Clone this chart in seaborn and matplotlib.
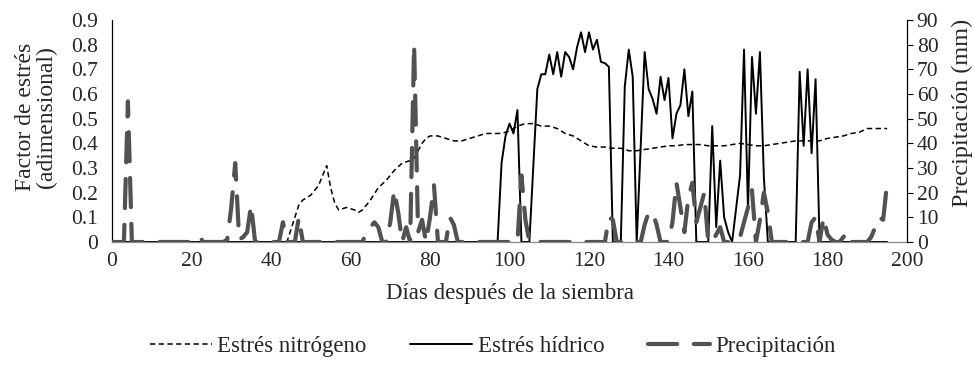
import matplotlib
matplotlib.use("Agg")
import matplotlib.pyplot as plt
import seaborn as sns
import pandas as pd
from matplotlib.ticker import FuncFormatter, MultipleLocator

# ---- data (day, value) ----
NITRO_DAYS = [0, 43, 44, 47, 48, 50, 52, 54, 55, 56, 57, 59, 61, 62, 63, 65, 67, 69, 71, 73, 75,
              76, 77, 78, 79, 80, 82, 84, 86, 88, 90, 92, 94, 96, 98, 100, 102, 104, 106, 108,
              110, 112, 114, 116, 118, 120, 122, 124, 126, 128, 130, 132, 134, 136, 138, 140,
              142, 144, 146, 148, 150, 152, 154, 156, 158, 160, 162, 164, 166, 168, 170, 172,
              174, 176, 178, 180, 182, 184, 186, 188, 190, 192, 194, 195]
NITRO_VALS = [0, 0, 0.00, 0.15, 0.17, 0.19, 0.23, 0.31, 0.22, 0.16, 0.13, 0.14, 0.13, 0.12, 0.13,
              0.17, 0.22, 0.25, 0.29, 0.32, 0.33, 0.34, 0.37, 0.40, 0.42, 0.43, 0.43, 0.42, 0.41,
              0.41, 0.42, 0.43, 0.44, 0.44, 0.44, 0.45, 0.47, 0.48, 0.48, 0.47, 0.47, 0.46, 0.44,
              0.43, 0.41, 0.39, 0.385, 0.385, 0.38, 0.38, 0.37, 0.37, 0.375, 0.38, 0.385, 0.39,
              0.39, 0.395, 0.395, 0.395, 0.39, 0.39, 0.39, 0.395, 0.40, 0.395, 0.39, 0.39, 0.395,
              0.40, 0.405, 0.41, 0.41, 0.41, 0.41, 0.42, 0.425, 0.43, 0.44, 0.445, 0.46, 0.46,
              0.46, 0.46]

WATER_DAYS = [0, 97, 98, 99, 100, 101, 102, 103, 105, 107, 108, 109, 110, 111, 112, 113, 114,
              115, 116, 117, 118, 119, 120, 121, 122, 123, 124, 125, 126, 128, 129, 130, 131,
              132, 134, 135, 136, 137, 138, 139, 140, 141, 142, 143, 144, 145, 146, 147, 150,
              151, 152, 153, 154, 155, 156, 158, 159, 160, 161, 162, 163, 164, 165, 172, 173,
              174, 175, 176, 177, 178, 195]
WATER_VALS = [0, 0, 0.32, 0.43, 0.48, 0.44, 0.535, 0, 0, 0.62, 0.68, 0.68, 0.76, 0.68, 0.77, 0.67,
              0.77, 0.75, 0.70, 0.79, 0.85, 0.77, 0.85, 0.78, 0.82, 0.73, 0.725, 0.71, 0, 0,
              0.63, 0.78, 0.67, 0, 0.77, 0.62, 0.58, 0.52, 0.67, 0.575, 0.665, 0.42, 0.52, 0.555,
              0.70, 0.51, 0.61, 0, 0, 0.47, 0.06, 0.33, 0.10, 0.04, 0, 0.27, 0.78, 0.13, 0.75,
              0.52, 0.77, 0.26, 0, 0, 0.69, 0.39, 0.70, 0.36, 0.66, 0, 0]

RAIN_DAYS = [0, 3, 4, 5, 21, 22, 23, 28, 29, 30, 31, 32, 33, 34, 35, 36, 42, 43, 44, 46, 47, 48,
             63, 64, 65, 66, 67, 68, 69, 70, 71, 72, 73, 74, 75, 76, 77, 78, 79, 80, 81, 82, 84,
             85, 86, 87, 102, 103, 104, 105, 124, 125, 126, 127, 133, 134, 135, 136, 137, 138,
             140, 141, 142, 143, 144, 145, 146, 147, 148, 149, 150, 151, 152, 153, 154, 157,
             158, 159, 160, 161, 162, 163, 164, 165, 166, 175, 176, 177, 178, 179, 180, 181,
             182, 183, 184, 185, 186, 190, 191, 192, 193, 194, 195]
RAIN_MM = [0, 0, 57, 0, 0, 2, 0, 0, 1, 14, 32, 1, 2, 4, 15, 0, 0, 8, 0, 0, 10, 0,
           0, 4, 6, 8, 6, 0, 0, 8, 21, 12, 0, 6, 0, 80, 4, 9, 0, 10, 23, 0, 0,
           10, 7, 0, 0, 27, 9, 0, 0, 10, 9, 0, 0, 7, 12, 12, 7, 0,
           0, 8, 24, 14, 4, 18, 24, 8, 14, 20, 0, 0, 3, 6, 0, 0,
           2, 8, 14, 21, 0, 9, 20, 12, 0, 0, 8, 10, 0, 10, 3, 1,
           0, 0, 2, 4, 0, 0, 2, 6, 10, 9, 24]

X_TICKS = list(range(0, 201, 20))
LABEL_N = "Estrés nitrógeno"
LABEL_W = "Estrés hídrico"
LABEL_P = "Precipitación"

# ---- style ----
sns.set_style("white")
plt.rcParams["font.family"] = ["Liberation Serif", "DejaVu Serif"]
plt.rcParams["font.size"] = 15.5

fig = plt.figure(figsize=(9.74, 3.66), dpi=100)
ax = fig.add_axes([112 / 974, 124 / 366, 795 / 974, 222 / 366])
tw = ax.twinx()

dn = pd.DataFrame({"dia": NITRO_DAYS, "valor": NITRO_VALS})
dw = pd.DataFrame({"dia": WATER_DAYS, "valor": WATER_VALS})
dp = pd.DataFrame({"dia": RAIN_DAYS, "mm": RAIN_MM})

sns.lineplot(data=dn, x="dia", y="valor", ax=ax, color="black", linewidth=1.1,
             label=LABEL_N, estimator=None)
ax.lines[-1].set_dashes((3.5, 2.2))
sns.lineplot(data=dw, x="dia", y="valor", ax=ax, color="black", linewidth=1.4,
             label=LABEL_W, estimator=None)
sns.lineplot(data=dp, x="dia", y="mm", ax=tw, color="#525252", linewidth=3.0,
             label=LABEL_P, estimator=None)
pl = tw.lines[-1]
pl.set_dashes((7.0, 4.0))
pl.set_dash_capstyle("round")
pl.set_solid_capstyle("round")

for a in (ax, tw):
    if a.get_legend() is not None:
        a.get_legend().remove()

ax.set_xlim(0, 200)
ax.set_ylim(0, 0.9)
tw.set_ylim(0, 90)
ax.set_xticks(X_TICKS)
ax.yaxis.set_major_locator(MultipleLocator(0.1))
ax.yaxis.set_major_formatter(FuncFormatter(lambda v, p: "0" if abs(v) < 1e-9 else f"{v:.1f}"))
tw.yaxis.set_major_locator(MultipleLocator(10))

for s in ("top", "right"):
    ax.spines[s].set_visible(False)
for s in ("top", "left", "bottom"):
    tw.spines[s].set_visible(False)
ax.spines["left"].set_color("black")
ax.spines["left"].set_linewidth(0.9)
ax.spines["bottom"].set_color("#8a8a8a")
ax.spines["bottom"].set_linewidth(0.9)
tw.spines["right"].set_color("black")
tw.spines["right"].set_linewidth(0.9)

ax.tick_params(axis="both", length=0)
ax.tick_params(axis="y", pad=10)
ax.tick_params(axis="x", pad=7)
tw.tick_params(axis="y", length=4, width=0.8, direction="out", pad=3, color="black")

ax.set_xlabel("Días después de la siembra", fontsize=16.5)
ax.xaxis.set_label_coords(0.5, -0.185)
ax.set_ylabel("Factor de estrés\n(adimensional)", linespacing=1.02, fontsize=17)
ax.yaxis.set_label_coords(-0.069, 0.563)
tw.set_ylabel("Precipitación (mm)", fontsize=17.5)
tw.yaxis.set_label_coords(1.056, 0.58)

h1, l1 = ax.get_legend_handles_labels()
h2, l2 = tw.get_legend_handles_labels()
fig.legend(h1 + h2, l1 + l2, loc="center", bbox_to_anchor=(0.506, 0.052), ncol=3,
           frameon=False, handlelength=2.7, columnspacing=1.9, handletextpad=0.25,
           fontsize=16.5)

fig.savefig("out.png", dpi=100)
